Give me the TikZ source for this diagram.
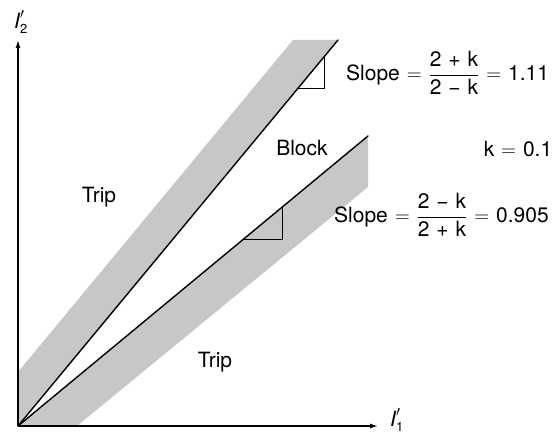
\documentclass[tikz,border=0pt]{standalone}
\usepackage{amsmath}
\usepackage{fontspec}
\setmainfont{TeX Gyre Heros}
\usetikzlibrary{arrows.meta}
\newcommand{\gsp}{\hspace{0.33em}}
\begin{document}
\begin{tikzpicture}[x=1pt,y=-1pt,
  band/.style={fill=black!22,draw=none},
  relline/.style={line width=1.4pt,line cap=round},
  axisline/.style={line width=1.3pt,-{Latex[length=8pt,width=5pt]}},
  tri/.style={line width=0.9pt},
  lbl/.style={font=\fontsize{21}{24}\selectfont,inner sep=0pt}]
\useasboundingbox (0,0) rectangle (557,435);
\coordinate (O) at (18,426);
\coordinate (Ytop) at (18,40);
\coordinate (Xend) at (378,426);
\coordinate (U) at (338,40);
\coordinate (L) at (368,136);
% bands
\fill[band] (O) -- (U) -- (293,40) -- (18,372) -- cycle;
\fill[band] (O) -- (L) -- (368,187) -- (77,426) -- cycle;
% triangles
\coordinate (ua) at (298.2,88);
\coordinate (ub) at (324,88);
\coordinate (uc) at (324,57);
\draw[tri] (ua) -- (ub) -- (uc);
\coordinate (la) at (243.7,239);
\coordinate (lb) at (282,239);
\coordinate (lc) at (282,207.3);
\draw[tri] (la) -- (lb) -- (lc);
% relay lines
\draw[relline] (O) -- (U);
\draw[relline] (O) -- (L);
% axes
\draw[axisline] (O) -- (Ytop);
\draw[axisline] (O) -- (Xend);
\node[lbl] (ylab) at (21,22) {$\text{\itshape I}'_{\text{\fontsize{13}{15}\selectfont 2}}$};
\node[lbl] (xlab) at (397,420) {$\text{\itshape I}'_{\text{\fontsize{13}{15}\selectfont 1}}$};
% labels
\node[lbl,anchor=west] (s1) at (346,73) {Slope\gsp$=$\gsp$\dfrac{\text{2\gsp+\gsp k}}{\text{2\gsp−\gsp k}}$\gsp$=$\gsp1.11};
\node[lbl,anchor=west] (s2) at (334,215) {Slope\gsp$=$\gsp$\dfrac{\text{2\gsp−\gsp k}}{\text{2\gsp+\gsp k}}$\gsp$=$\gsp0.905};
\node[lbl] (k) at (518,149) {k\gsp$=$\gsp0.1};
\node[lbl] (block) at (302,148) {Block};
\node[lbl] (trip1) at (99,197) {Trip};
\node[lbl] (trip2) at (215,362) {Trip};
\end{tikzpicture}
\end{document}
